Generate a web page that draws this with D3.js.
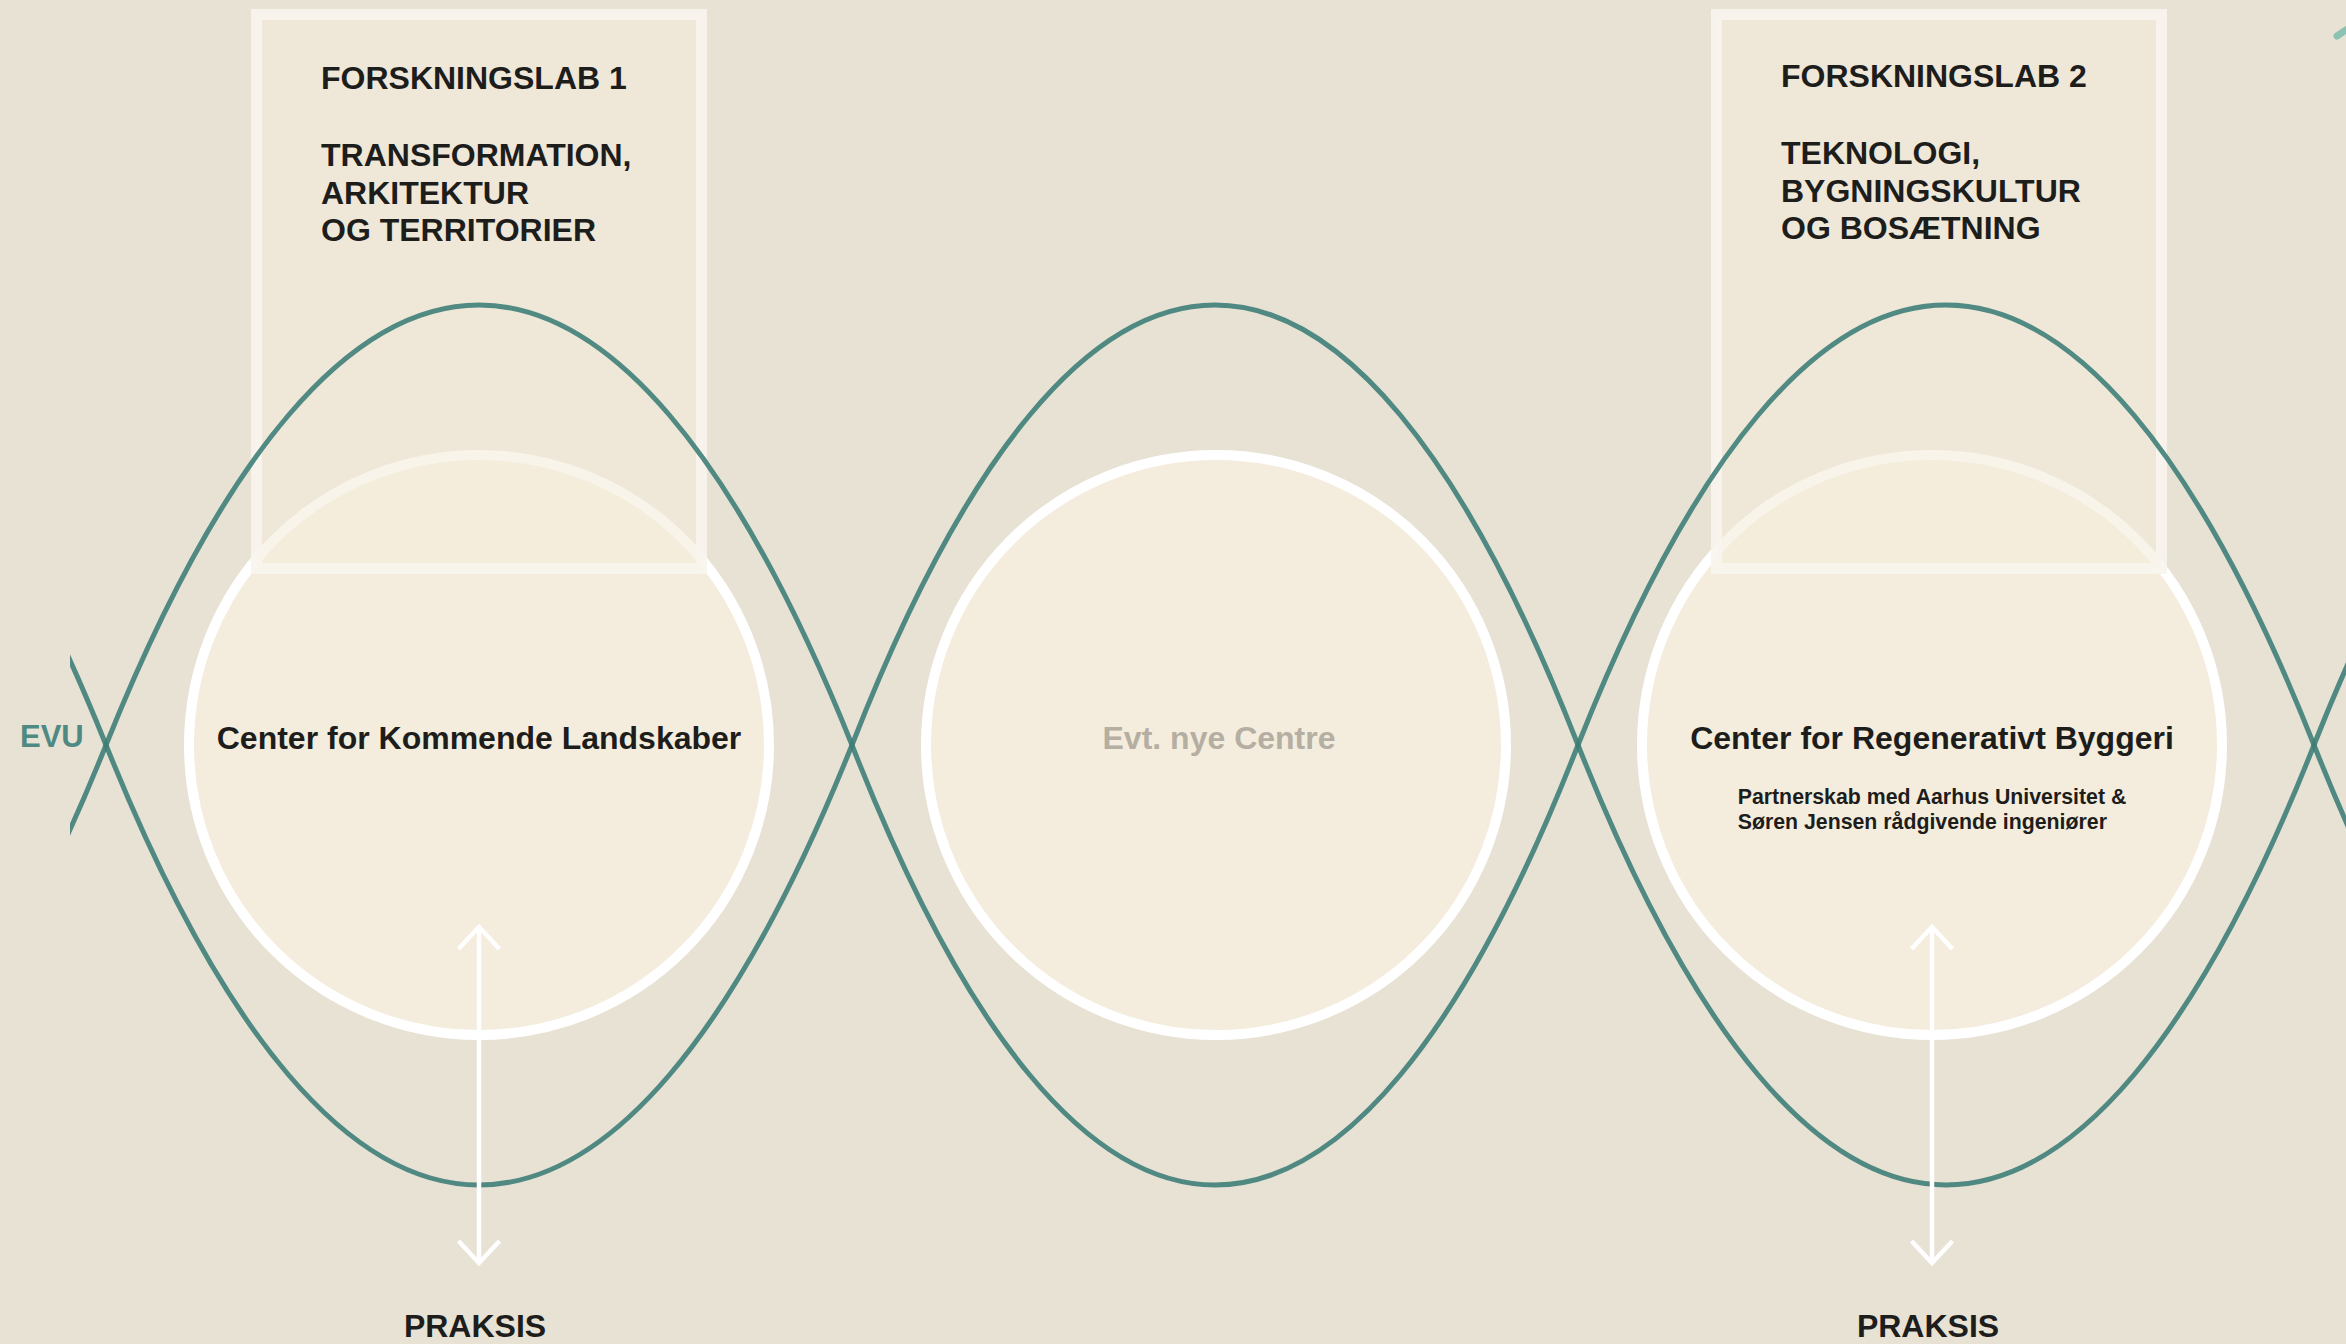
<!DOCTYPE html>
<html>
<head>
<meta charset="utf-8">
<script src="https://cdn.jsdelivr.net/npm/d3@7"></script>
<style>
  body { margin: 0; background: #e8e2d5; overflow: hidden; }
  svg { display: block; }
</style>
</head>
<body>
<div id="chart"></div>
<script>
// content of the diagram
var centreNames = ["Center for Kommende Landskaber", "Evt. nye Centre", "Center for Regenerativt Byggeri"];
var centreMuted = [false, true, false];
var centreNotes = [[], [], ["Partnerskab med Aarhus Universitet &", "Søren Jensen rådgivende ingeniører"]];
var labTitles = ["FORSKNINGSLAB 1", "FORSKNINGSLAB 2"];
var labThemes = [["TRANSFORMATION,", "ARKITEKTUR", "OG TERRITORIER"],
                 ["TEKNOLOGI,", "BYGNINGSKULTUR", "OG BOSÆTNING"]];
var labAtCentre = [0, 2];
var praksisAtCentre = [0, 2];
var crossings = [-1, 0, 1, 2, 3];   // arches between crossing k and k+1
var sideLabel = "EVU";
var practiceLabel = "PRAKSIS";

var width = 2346, height = 1344;
var font = "'Liberation Sans', Arial, Helvetica, sans-serif";

var cx = d3.scaleLinear().domain([0, 1, 2]).range([479, 1216, 1932]);
var crossX = d3.scaleLinear().domain([0, 1, 2, 3]).range([106, 852, 1578, 2314]);
var wy = d3.scaleLinear().domain([-1, 1]).range([1185, 305]);
var radius = 290;

var svg = d3.select("#chart").append("svg")
    .attr("width", width)
    .attr("height", height);

svg.append("rect").attr("width", width).attr("height", height).attr("fill", "#e8e2d5");

svg.append("clipPath").attr("id", "waveclip")
    .append("rect").attr("x", 70).attr("y", 0).attr("width", width - 70).attr("height", height);

// centre circles
svg.append("g").selectAll("circle")
    .data(centreNames)
    .enter().append("circle")
    .attr("cx", function(d, i) { return cx(i); })
    .attr("cy", wy(0))
    .attr("r", radius)
    .attr("fill", "#f4eddd")
    .attr("stroke", "#ffffff")
    .attr("stroke-width", 10);

// research lab boxes (semi transparent over the circles)
function labX(i) {
  var c = labAtCentre[i];
  return (cx(c) + (crossX(c) + crossX(c + 1)) / 2) / 2;
}
var labs = svg.append("g").selectAll("g")
    .data(labTitles)
    .enter().append("g");
labs.append("rect")
    .attr("x", function(d, i) { return labX(i) - 222.5; })
    .attr("y", 14.5)
    .attr("width", 445)
    .attr("height", 554)
    .attr("fill", "#f3ecdc")
    .attr("fill-opacity", 0.6)
    .attr("stroke", "#f8f5ee")
    .attr("stroke-opacity", 0.9)
    .attr("stroke-width", 11);

// the two crossing waves
function wavePath(s) {
  var p = d3.path();
  p.moveTo(crossX(crossings[0]), wy(0));
  crossings.forEach(function(k) {
    var x0 = crossX(k), x1 = crossX(k + 1), L = x1 - x0;
    var sign = s * (Math.abs(k) % 2 == 0 ? 1 : -1);
    var cy = wy(sign * 4 / 3);
    p.bezierCurveTo(x0 + 0.315 * L, cy, x1 - 0.315 * L, cy, x1, wy(0));
  });
  return p.toString();
}
svg.append("g").attr("clip-path", "url(#waveclip)")
    .selectAll("path")
    .data([1, -1])
    .enter().append("path")
    .attr("d", wavePath)
    .attr("fill", "none")
    .attr("stroke", "#3a7c75")
    .attr("stroke-opacity", 0.88)
    .attr("stroke-width", 5);

// little fragment top right
svg.append("line")
    .attr("x1", 2337).attr("y1", 36).attr("x2", 2362).attr("y2", 19)
    .attr("stroke", "#8cc2b1").attr("stroke-width", 7).attr("stroke-linecap", "round");

// practice arrows
var line = d3.line();
praksisAtCentre.forEach(function(c) {
  var x = cx(c), top = 924, bottom = 1266;
  var g = svg.append("g")
      .attr("fill", "none")
      .attr("stroke", "#ffffff")
      .attr("stroke-width", 4.5);
  g.append("path").attr("d", line([[x, top + 2], [x, bottom - 2]]));
  g.append("path").attr("d", line([[x - 20.5, top + 25], [x, top + 3], [x + 20.5, top + 25]]));
  g.append("path").attr("d", line([[x - 20.5, bottom - 25], [x, bottom - 3], [x + 20.5, bottom - 25]]));
  svg.append("text")
      .attr("x", x - 4)
      .attr("y", 1337)
      .attr("text-anchor", "middle")
      .style("font-family", font)
      .style("font-weight", "bold")
      .style("font-size", "32px")
      .attr("fill", "#1d1d1b")
      .text(practiceLabel);
});

// lab texts
labs.each(function(d, i) {
  var g = d3.select(this);
  var x = labX(i) - 158;
  var dy = i * -2;
  var t = g.append("text")
      .style("font-family", font)
      .style("font-weight", "bold")
      .style("font-size", "32px")
      .attr("fill", "#1d1d1b");
  t.append("tspan").attr("x", x).attr("y", 89 + dy).text(d);
  labThemes[i].forEach(function(l, j) {
    t.append("tspan").attr("x", x).attr("y", 166 + dy + j * 37.5).text(l);
  });
});

// centre names
svg.append("g").selectAll("text")
    .data(centreNames)
    .enter().append("text")
    .attr("x", function(d, i) { return cx(i) + (centreMuted[i] ? 3 : 0); })
    .attr("y", 749)
    .attr("text-anchor", "middle")
    .style("font-family", font)
    .style("font-weight", "bold")
    .style("font-size", "32px")
    .attr("fill", function(d, i) { return centreMuted[i] ? "#b5aea2" : "#1d1d1b"; })
    .text(function(d) { return d; });

// notes under a centre name, left aligned block
centreNotes.forEach(function(notes, i) {
  if (notes.length == 0) return;
  var t = svg.append("text")
      .style("font-family", font)
      .style("font-weight", "bold")
      .style("font-size", "21.3px")
      .attr("fill", "#1d1d1b");
  notes.forEach(function(n, j) {
    t.append("tspan").attr("y", 804 + j * 25).text(n);
  });
  var w = t.select("tspan").node().getComputedTextLength();
  t.selectAll("tspan").attr("x", cx(i) - w / 2);
});

// EVU side label
svg.append("text")
    .attr("x", 20)
    .attr("y", 747)
    .style("font-family", font)
    .style("font-weight", "bold")
    .style("font-size", "31px")
    .attr("fill", "#4e8a83")
    .text(sideLabel);
</script>
</body>
</html>
